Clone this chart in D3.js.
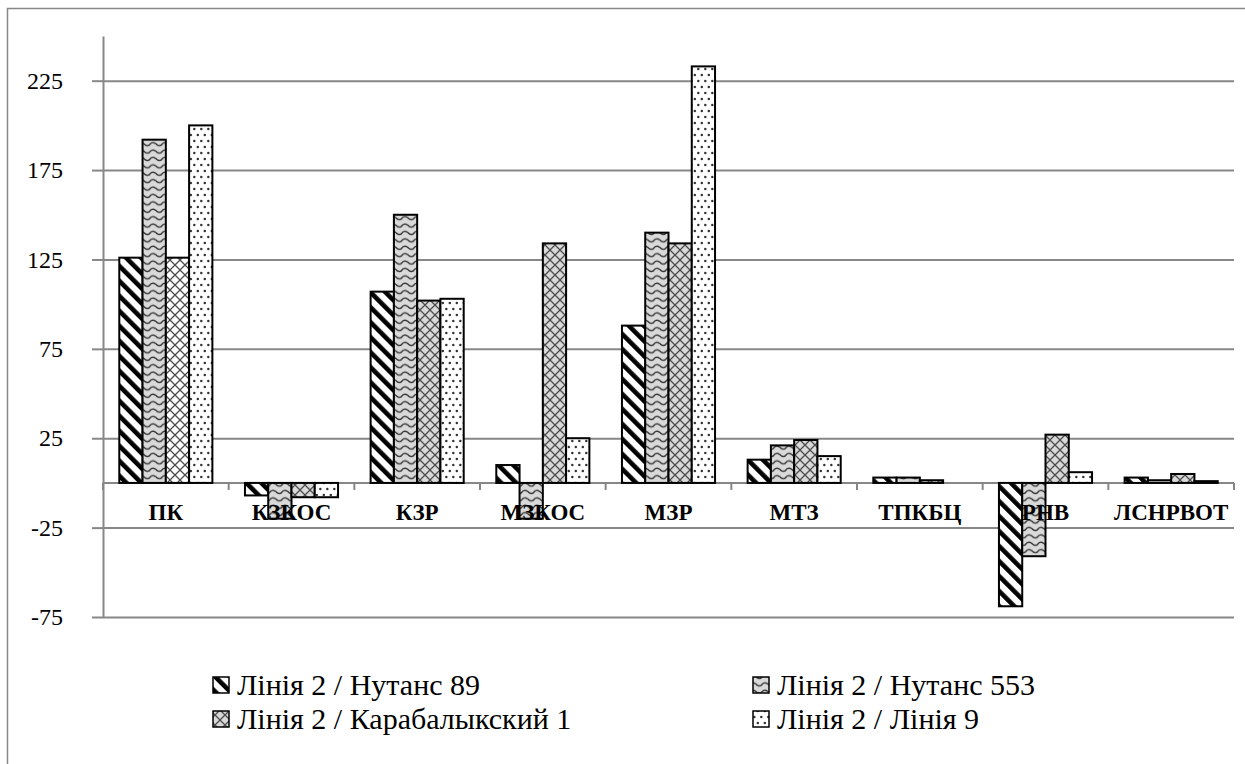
<!DOCTYPE html>
<html><head><meta charset="utf-8">
<script src="https://cdn.jsdelivr.net/npm/d3@7"></script>
<style>body{margin:0;background:#fff;} svg{display:block}</style>
</head><body><svg id="c" width="1245" height="764"></svg>
<script>
// ---- data ----
const categories = ["ПК","КЗКОС","КЗР","МЗКОС","МЗР","МТЗ","ТПКБЦ","РНВ","ЛСНРВОТ"];
const seriesNames = ["Лінія 2 / Нутанс 89","Лінія 2 / Нутанс 553","Лінія 2 / Карабалыкский 1","Лінія 2 / Лінія 9"];
const nutans89   = [126, -7, 107, 10, 88, 13, 3, -69, 3];
const nutans553  = [192, -20, 150, -20, 140, 21, 3, -41, 1.5];
const karabalyk1 = [126, -8, 102, 134, 134, 24, 1.5, 27, 5];
const liniya9    = [200, -8, 103, 25, 233, 15, 0, 6, 1];
const yTicks = [-75, -25, 25, 75, 125, 175, 225];
const yDomain = [-75, 250];

const seriesValues = [nutans89, nutans553, karabalyk1, liniya9];

// ---- layout ----
const svg = d3.select("#c");
const plotLeft = 103, plotRight = 1234, plotTop = 36, plotBottom = 617;
const gridColor = "#878787";
const serifFont = "Liberation Serif";

svg.append("rect").attr("x", 7.5).attr("y", 8.5).attr("width", 1400).attr("height", 900)
  .attr("fill", "#fff").attr("stroke", gridColor).attr("stroke-width", 1.5);

// ---- patterns ----
const defs = svg.append("defs");
const pS = defs.append("pattern").attr("id", "pStripe").attr("patternUnits", "userSpaceOnUse")
  .attr("width", 10.6).attr("height", 10.6).attr("patternTransform", "rotate(-45)");
pS.append("rect").attr("width", 10.6).attr("height", 10.6).attr("fill", "#fff");
pS.append("rect").attr("width", 4.6).attr("height", 10.6).attr("fill", "#000");

const pW = defs.append("pattern").attr("id", "pWave").attr("patternUnits", "userSpaceOnUse")
  .attr("width", 12).attr("height", 7.4);
pW.append("rect").attr("width", 12).attr("height", 7.4).attr("fill", "#d9d9d9");
pW.append("path").attr("d", "M-1,2.2 C1.5,5.8 4.5,5.8 6,3.7 C7.5,1.6 10.5,1.6 13,4.2")
  .attr("fill", "none").attr("stroke", "#3a3a3a").attr("stroke-width", 1.4);

function crossPattern(id, bg) {
  const p = defs.append("pattern").attr("id", id).attr("patternUnits", "userSpaceOnUse")
    .attr("width", 10).attr("height", 10);
  p.append("rect").attr("width", 10).attr("height", 10).attr("fill", bg);
  p.append("path").attr("d", "M-1,-1 L11,11 M11,-1 L-1,11")
    .attr("stroke", "#4d4d4d").attr("stroke-width", 1.3);
}
crossPattern("pCross", "#d9d9d9");
crossPattern("pCrossWhite", "#ffffff");

const pD = defs.append("pattern").attr("id", "pDots").attr("patternUnits", "userSpaceOnUse")
  .attr("width", 7).attr("height", 12);
pD.append("rect").attr("width", 7).attr("height", 12).attr("fill", "#fff");
pD.append("circle").attr("cx", 1.8).attr("cy", 3).attr("r", 1.25).attr("fill", "#333");
pD.append("circle").attr("cx", 5.3).attr("cy", 9).attr("r", 1.25).attr("fill", "#333");

const fills = ["url(#pStripe)", "url(#pWave)", "url(#pCross)", "url(#pDots)"];
const whiteCrossCategory = "ПК";

// ---- scales ----
const x = d3.scaleBand().domain(categories).range([plotLeft, plotRight]).paddingInner(0).paddingOuter(0);
const xs = d3.scaleBand().domain(d3.range(seriesNames.length)).range([0, x.bandwidth()])
  .paddingInner(0).paddingOuter(0.7);
const y = d3.scaleLinear().domain(yDomain).range([plotBottom, plotTop]);

// ---- grid ----
svg.append("g").attr("transform", `translate(${plotLeft},0)`)
  .call(d3.axisLeft(y).tickValues(yTicks).tickSize(-(plotRight - plotLeft)).tickFormat(""))
  .call(g => g.select(".domain").remove())
  .call(g => g.selectAll("line").attr("stroke", gridColor).attr("stroke-width", 2));

// ---- y axis ----
svg.append("g").attr("transform", `translate(${plotLeft},0)`)
  .call(d3.axisLeft(y).tickValues(yTicks).tickSize(11).tickSizeOuter(0).tickPadding(29).tickFormat(d => String(d)))
  .attr("font-family", serifFont).attr("font-size", 24)
  .call(g => g.select(".domain").attr("stroke", gridColor).attr("stroke-width", 2))
  .call(g => g.selectAll("line").attr("stroke", gridColor).attr("stroke-width", 2))
  .call(g => g.selectAll("text").style("font-family", serifFont).style("font-size", "24px").attr("fill", "#000"));

// ---- x axis line & boundary ticks ----
const y0 = y(0);
const xAxis = svg.append("g");
xAxis.append("line").attr("x1", plotLeft).attr("x2", plotRight).attr("y1", y0).attr("y2", y0)
  .attr("stroke", gridColor).attr("stroke-width", 2);
xAxis.selectAll("line.tk").data(categories.map(c => x(c)).concat([plotRight])).join("line")
  .attr("class", "tk").attr("x1", d => d).attr("x2", d => d).attr("y1", y0).attr("y2", y0 + 7)
  .attr("stroke", gridColor).attr("stroke-width", 2);

// ---- bars ----
seriesValues.forEach((vals, s) => {
  svg.append("g").selectAll("rect").data(vals.map((v, i) => ({v, c: categories[i]})).filter(d => d.v !== 0))
    .join("rect")
    .attr("x", d => x(d.c) + xs(s))
    .attr("width", xs.bandwidth())
    .attr("y", d => y(Math.max(0, d.v)))
    .attr("height", d => Math.abs(y(d.v) - y(0)))
    .attr("fill", d => (s === 2 && d.c === whiteCrossCategory) ? "url(#pCrossWhite)" : fills[s])
    .attr("stroke", "#000").attr("stroke-width", 2);
});

// ---- category labels ----
svg.append("g").selectAll("text").data(categories).join("text")
  .attr("x", d => x(d) + x.bandwidth() / 2)
  .attr("y", y0 + 37)
  .attr("text-anchor", "middle")
  .style("font-family", serifFont).style("font-weight", "bold").style("font-size", "23px")
  .attr("fill", "#000")
  .text(d => d);

// ---- legend ----
const legCols = [213, 753], legRows = [695, 729];
const leg = svg.append("g");
seriesNames.forEach((name, s) => {
  const cx = legCols[s % 2], by = legRows[Math.floor(s / 2)];
  leg.append("rect").attr("x", cx).attr("y", by - 18).attr("width", 16).attr("height", 16)
    .attr("fill", fills[s]).attr("stroke", "#000").attr("stroke-width", 1.5);
  leg.append("text").attr("x", cx + 24).attr("y", by)
    .style("font-family", serifFont).style("font-size", "30px").attr("fill", "#000").text(name);
});
</script>
</body></html>
